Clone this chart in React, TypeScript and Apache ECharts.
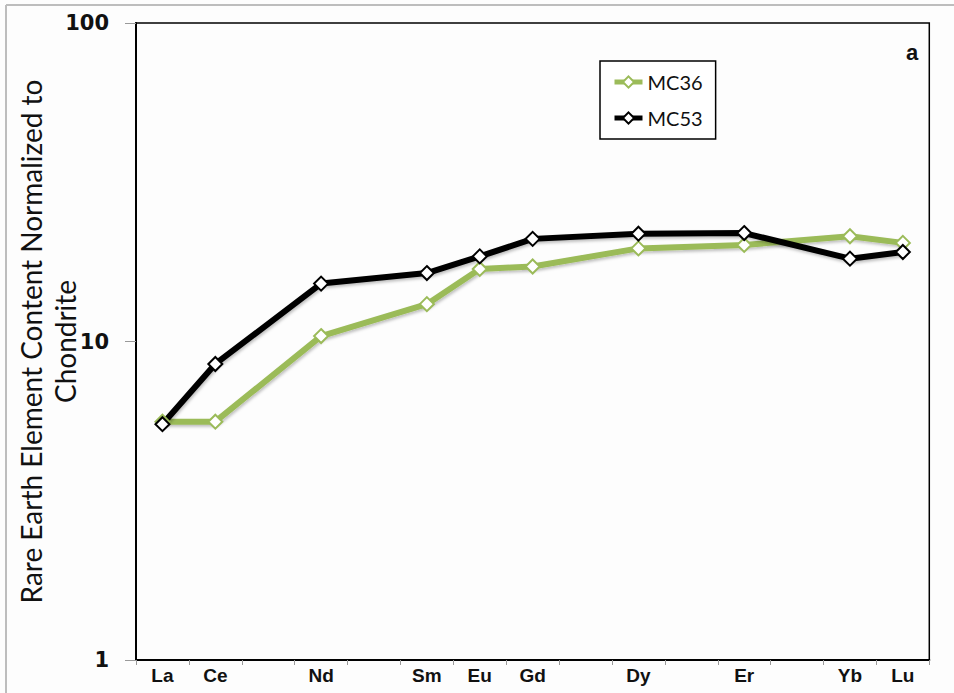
import React, { useEffect, useRef } from "react";
import * as echarts from "echarts";

const categories = ["La", "Ce", "Pr", "Nd", "Pm", "Sm", "Eu", "Gd", "Tb", "Dy", "Ho", "Er", "Tm", "Yb", "Lu"];
const labeledCategories = ["La", "Ce", "Nd", "Sm", "Eu", "Gd", "Dy", "Er", "Yb", "Lu"];
const mc36 = [5.6, 5.6, null, 10.4, null, 13.1, 16.9, 17.2, null, 19.6, null, 20.1, null, 21.4, 20.4];
const mc53 = [5.5, 8.5, null, 15.2, null, 16.4, 18.5, 21.0, null, 21.8, null, 21.9, null, 18.2, 19.1];
const yTickLabels = [1, 10, 100];
const yAxisTitle = "Rare Earth Element Content Normalized to\nChondrite";
const panelLabel = "a";

export default function App() {
  const ref = useRef<HTMLDivElement>(null);
  useEffect(() => {
    if (!ref.current) return;
    const chart = echarts.init(ref.current, null, { renderer: "svg" });
    const lineShadow = { shadowColor: "rgba(0,0,0,0.25)", shadowBlur: 3, shadowOffsetX: 1, shadowOffsetY: 2 };
    chart.setOption({
      animation: false,
      backgroundColor: "#fdfdfd",
      title: {
        text: panelLabel,
        left: 901,
        top: 36,
        textStyle: { fontFamily: "Liberation Sans", fontWeight: "bold", fontSize: 22, color: "#111" },
      },
      graphic: [
        { type: "line", shape: { x1: 6, y1: 5, x2: 954, y2: 5 }, style: { stroke: "#bdbdbd", lineWidth: 2 } },
        { type: "line", shape: { x1: 6, y1: 5, x2: 6, y2: 693 }, style: { stroke: "#bdbdbd", lineWidth: 2 } },
      ],
      legend: {
        left: 600,
        top: 61,
        orient: "vertical",
        backgroundColor: "#fff",
        borderColor: "#000",
        borderWidth: 1.5,
        borderRadius: 0,
        padding: [10, 13, 10, 12],
        itemWidth: 28,
        itemHeight: 14,
        itemGap: 14,
        lineStyle: { width: 5 },
        itemStyle: { borderWidth: 2.5 },
        textStyle: { fontFamily: "Lato", fontSize: 20, color: "#111", lineHeight: 22 },
        data: ["MC36", "MC53"],
      },
      grid: {
        left: 136,
        right: 24.7,
        top: 23,
        bottom: 33,
        outerBoundsMode: "none",
        containLabel: false,
        show: true,
        backgroundColor: "#fdfdfd",
        borderColor: "#000",
        borderWidth: 1.5,
      },
      xAxis: {
        type: "category",
        data: categories,
        boundaryGap: true,
        axisLine: { lineStyle: { color: "#000", width: 2 } },
        axisTick: { show: true, length: 5, lineStyle: { color: "#999", width: 1 } },
        axisLabel: {
          interval: 0,
          margin: 6,
          fontFamily: "Liberation Sans",
          fontWeight: "bold",
          fontSize: 19,
          color: "#111",
          formatter: (v: string) => (labeledCategories.includes(v) ? v : ""),
        },
        splitLine: { show: false },
      },
      yAxis: {
        type: "log",
        logBase: 10,
        min: 1,
        max: 100,
        splitNumber: 2,
        name: yAxisTitle,
        nameLocation: "middle",
        nameRotate: 90,
        nameGap: 54,
        nameMoveOverlap: false,
        nameTextStyle: { fontFamily: "Lato", fontSize: 28, color: "#111", lineHeight: 34, align: "center" },
        axisLine: { show: true, lineStyle: { color: "#000", width: 2 } },
        axisTick: { show: true, length: 11, lineStyle: { color: "#999", width: 1 } },
        minorTick: { show: false },
        splitLine: { show: false },
        axisLabel: {
          margin: 27,
          fontFamily: "DejaVu Sans",
          fontWeight: "bold",
          fontSize: 21,
          color: "#111",
          formatter: (v: number) => (yTickLabels.includes(Math.round(v)) ? String(Math.round(v)) : ""),
        },
      },
      series: [
        {
          name: "MC36",
          type: "line",
          data: mc36,
          connectNulls: true,
          color: "#9bbb59",
          symbol: "emptyDiamond",
          symbolSize: 14,
          itemStyle: { color: "#9bbb59", borderWidth: 3 },
          lineStyle: { color: "#9bbb59", width: 6, ...lineShadow },
        },
        {
          name: "MC53",
          type: "line",
          data: mc53,
          connectNulls: true,
          color: "#000",
          symbol: "emptyDiamond",
          symbolSize: 14,
          itemStyle: { color: "#000", borderWidth: 3 },
          lineStyle: { color: "#000", width: 6, ...lineShadow },
        },
      ],
    });
    return () => chart.dispose();
  }, []);
  return (
    <div
      ref={ref}
      style={{ position: "fixed", left: 0, top: 0, width: 954, height: 693 }}
    />
  );
}
